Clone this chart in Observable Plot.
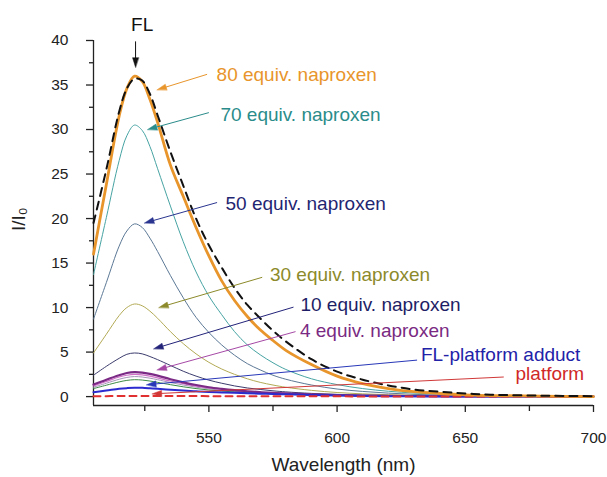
<!DOCTYPE html>
<html><head><meta charset="utf-8">
<script src="https://cdn.jsdelivr.net/npm/d3@7"></script>
<script src="https://cdn.jsdelivr.net/npm/@observablehq/plot@0.6"></script>
<style>html,body{margin:0;padding:0;background:#fff}svg{display:block}</style>
</head><body><div id="chart"></div>
<script>
// ---------- data ----------
const wavelengths = [505,510,515,518,521,524,527,530,535,540,545,550,555,560,565,570,575,580,590,600,610,620,630,640,650,660,680,700];
const fl       = [19.5,25.5,32.0,34.6,35.7,35.5,34.0,31.6,27.5,23.7,20.0,17.0,14.5,12.2,10.3,8.8,7.4,6.2,4.2,2.8,1.9,1.25,0.8,0.55,0.35,0.22,0.1,0.05];
const eq80     = [16.0,23.8,31.5,34.6,36.0,35.4,33.4,30.8,26.0,22.5,19.0,15.8,13.0,10.8,9.0,7.5,6.3,5.2,3.6,2.3,1.45,0.9,0.55,0.35,0.2,0.12,0.05,0.0];
const eq70     = [13.7,20.1,26.5,29.3,30.5,29.9,28.1,25.6,21.4,17.4,14.0,11.3,9.2,7.3,5.8,4.7,3.8,3.05,2.0,1.35,0.9,0.6,0.4,0.27,0.18,0.12,0.06,0.02];
const eq50     = [8.7,12.8,16.9,18.6,19.4,19.0,17.8,16.3,13.6,11.1,8.9,7.2,5.8,4.65,3.7,3.0,2.4,1.95,1.3,0.85,0.58,0.39,0.25,0.17,0.12,0.08,0.04,0.01];
const eq30     = [4.9,7.0,9.1,10.0,10.4,10.2,9.6,8.8,7.3,5.95,4.8,3.85,3.1,2.5,2.0,1.6,1.3,1.05,0.7,0.46,0.31,0.21,0.14,0.1,0.07,0.05,0.03,0.01];
const eq10     = [2.4,3.4,4.3,4.75,4.9,4.8,4.5,4.15,3.5,2.85,2.3,1.85,1.5,1.2,0.97,0.8,0.65,0.53,0.36,0.25,0.17,0.12,0.08,0.06,0.04,0.03,0.02,0.01];
const eq4      = [1.35,1.9,2.4,2.65,2.75,2.7,2.55,2.35,1.95,1.6,1.3,1.05,0.87,0.72,0.6,0.5,0.42,0.36,0.26,0.18,0.12,0.08,0.06,0.04,0.03,0.02,0.01,0];
const eqPink   = [1.2,1.7,2.2,2.4,2.5,2.45,2.3,2.1,1.75,1.45,1.18,0.96,0.8,0.66,0.55,0.46,0.39,0.33,0.23,0.16,0.11,0.08,0.05,0.04,0.03,0.02,0.01,0];
const eqLav    = [1.05,1.5,1.95,2.15,2.25,2.2,2.07,1.9,1.58,1.3,1.06,0.87,0.72,0.6,0.5,0.42,0.35,0.3,0.21,0.14,0.1,0.07,0.05,0.035,0.025,0.02,0.01,0];
const eqGreen  = [0.9,1.28,1.65,1.82,1.9,1.86,1.75,1.6,1.34,1.1,0.9,0.74,0.62,0.52,0.44,0.37,0.31,0.26,0.18,0.12,0.08,0.055,0.04,0.03,0.02,0.015,0.01,0];
const adduct   = [0.5,0.68,0.87,0.95,1.0,0.98,0.93,0.87,0.77,0.68,0.6,0.53,0.47,0.42,0.37,0.33,0.29,0.25,0.18,0.12,0.08,0.05,0.035,0.025,0.02,0.015,0.01,0];
const platform = [0.04,0.05,0.07,0.08,0.08,0.08,0.08,0.07,0.07,0.06,0.06,0.05,0.05,0.05,0.04,0.04,0.04,0.03,0.03,0.03,0.02,0.02,0.02,0.02,0.01,0.01,0.01,0.01];

const xTicks = [550, 600, 650, 700];
const xMinorTicks = [525, 575, 625, 675];
const yTicks = [0, 5, 10, 15, 20, 25, 30, 35, 40];
const yMinorTicks = [2.5, 7.5, 12.5, 17.5, 22.5, 27.5, 32.5, 37.5];
const xLabel = "Wavelength (nm)";
const yLabel = "I/I\u2080";

// ---------- series & styles ----------
const seriesList = [
  {name: "70 equiv.", values: eq70},
  {name: "50 equiv.", values: eq50},
  {name: "30 equiv.", values: eq30},
  {name: "10 equiv.", values: eq10},
  {name: "lavender", values: eqLav},
  {name: "pink", values: eqPink},
  {name: "green", values: eqGreen},
  {name: "4 equiv.", values: eq4},
  {name: "FL-platform adduct", values: adduct},
  {name: "platform", values: platform},
  {name: "80 equiv.", values: eq80},
  {name: "FL", values: fl}
];
const lineStyle = {
  "70 equiv.": {stroke: "#47a3a3", strokeWidth: 1},
  "50 equiv.": {stroke: "#5b7895", strokeWidth: 1},
  "30 equiv.": {stroke: "#b3aa55", strokeWidth: 1},
  "10 equiv.": {stroke: "#3c3c6e", strokeWidth: 1},
  "lavender": {stroke: "#a595b8", strokeWidth: 1},
  "pink": {stroke: "#d070c8", strokeWidth: 1.2},
  "green": {stroke: "#3d8b45", strokeWidth: 1},
  "4 equiv.": {stroke: "#7b2a85", strokeWidth: 2.2},
  "FL-platform adduct": {stroke: "#2b2bd0", strokeWidth: 2},
  "platform": {stroke: "#e03030", strokeWidth: 2, strokeDasharray: "7,5"},
  "80 equiv.": {stroke: "#e8952b", strokeWidth: 2.8},
  "FL": {stroke: "#111111", strokeWidth: 2, strokeDasharray: "8,6"}
};

// annotation layout (data coordinates): label anchor, arrow start, arrow tip
const notes = [
  {label: "FL", color: "#111", arrow: "#111", lw: 524.0, lv: 41.8, anchor: "middle", sw: 521.4, sv: 39.9, tw: 521.4, tv: 37.0},
  {label: "80 equiv. naproxen", color: "#e8952b", arrow: "#e8952b", lw: 553.0, lv: 36.1, sw: 549.3, sv: 36.2, tw: 529.8, tv: 34.46},
  {label: "70 equiv. naproxen", color: "#2a8c8a", arrow: "#2a8c8a", lw: 554.5, lv: 31.6, sw: 550.0, sv: 31.9, tw: 526.1, tv: 30.0},
  {label: "50 equiv. naproxen", color: "#1f2672", arrow: "#2a3590", lw: 556.5, lv: 21.7, sw: 553.2, sv: 21.8, tw: 524.9, tv: 19.5},
  {label: "30 equiv. naproxen", color: "#8c8a2a", arrow: "#8c8a2a", lw: 573.8, lv: 13.7, sw: 570.8, sv: 13.4, tw: 530.5, tv: 10.0},
  {label: "10 equiv. naproxen", color: "#1e1e66", arrow: "#23237a", lw: 585.7, lv: 10.35, sw: 583.0, sv: 10.05, tw: 528.5, tv: 5.37},
  {label: "4 equiv. naproxen", color: "#7a2a82", arrow: "#a548a5", lw: 585.5, lv: 7.4, sw: 583.8, sv: 7.3, tw: 529.8, tv: 3.0},
  {label: "FL-platform adduct", color: "#2222a8", arrow: "#2838b8", lw: 632.7, lv: 4.68, sw: 631.2, sv: 4.1, tw: 525.7, tv: 1.33},
  {label: "platform", color: "#d02828", arrow: "#d03838", lw: 669.6, lv: 2.5, sw: 665.0, sv: 2.2, tw: 527.9, tv: 0.31}
];

// ---------- plot ----------
const base = {
  width: 607, height: 477,
  marginLeft: 93, marginRight: 14, marginTop: 40, marginBottom: 72,
  x: {domain: [505, 700]},
  y: {domain: [-1, 40]},
  style: {fontFamily: "'Liberation Sans', Arial, Helvetica, sans-serif", fontSize: "15.5px", color: "#222", background: "#fff", overflow: "visible"}
};

// probe pass to get the library's scales for arrowhead geometry
const probe = Plot.plot({...base, marks: [Plot.ruleX([505])]});
const sxo = probe.scale("x"), syo = probe.scale("y");
const X = d3.scaleLinear(sxo.domain, sxo.range);
const Y = d3.scaleLinear(syo.domain, syo.range);

function arrowParts(n, len = 9.5, half = 3) {
  const tx = X(n.tw), ty = Y(n.tv), fx = X(n.sw), fy = Y(n.sv);
  const dx = tx - fx, dy = ty - fy, d = Math.hypot(dx, dy);
  const ux = dx / d, uy = dy / d;
  const bx = tx - ux * len, by = ty - uy * len;
  const px = -uy, py = ux;
  const pts = [[tx, ty], [bx + px * half, by + py * half], [bx - px * half, by - py * half]];
  return {
    head: pts.map(([a, b]) => ({w: X.invert(a), v: Y.invert(b)})),
    base: {w: X.invert(bx + ux * 1), v: Y.invert(by + uy * 1)}
  };
}

const marks = [];
// axes
marks.push(Plot.ruleX([505], {y1: -1, y2: 40, stroke: "#222", strokeWidth: 1.3}));
marks.push(Plot.ruleY([-1], {x1: 505, x2: 700, stroke: "#222", strokeWidth: 1.3}));
marks.push(Plot.axisY({ticks: yTicks, tickSize: 7, tickPadding: 18, label: null, fontSize: 15.5, stroke: "#222", strokeWidth: 1.3}));
marks.push(Plot.axisY({ticks: yMinorTicks, tickSize: 4, tickFormat: () => "", label: null, stroke: "#222", strokeWidth: 1.3}));
marks.push(Plot.axisX({ticks: xTicks, tickSize: 7, tickPadding: 19, label: null, fontSize: 15.5, stroke: "#222", strokeWidth: 1.3}));
marks.push(Plot.axisX({ticks: xMinorTicks, tickSize: 6, tickFormat: () => "", label: null, stroke: "#222", strokeWidth: 1.3}));

// curves
for (const s of seriesList) {
  const pts = wavelengths.map((w, i) => ({w, v: s.values[i]}));
  marks.push(Plot.line(pts, {x: "w", y: "v", curve: "catmull-rom", ...lineStyle[s.name]}));
}

// annotations
for (const n of notes) {
  const {head, base: b} = arrowParts(n);
  marks.push(Plot.link([n], {x1: "sw", y1: "sv", x2: () => b.w, y2: () => b.v, stroke: n.arrow, strokeWidth: 1}));
  marks.push(Plot.line(head, {x: "w", y: "v", curve: "linear-closed", fill: n.arrow, stroke: n.arrow, strokeWidth: 0.5}));
  marks.push(Plot.text([n], {x: "lw", y: "lv", text: "label", fill: n.color, fontSize: 19, textAnchor: n.anchor || "start"}));
}

// axis titles
marks.push(Plot.text([xLabel], {text: d => d, frameAnchor: "bottom", dy: 65.5, fontSize: 19, fill: "#222"}));
marks.push(Plot.text([yLabel], {text: d => d, frameAnchor: "left", dx: -75, dy: 8, rotate: -90, fontSize: 19, fill: "#222"}));

const chart = Plot.plot({...base, marks});
document.getElementById("chart").appendChild(chart);
</script>
</body></html>
